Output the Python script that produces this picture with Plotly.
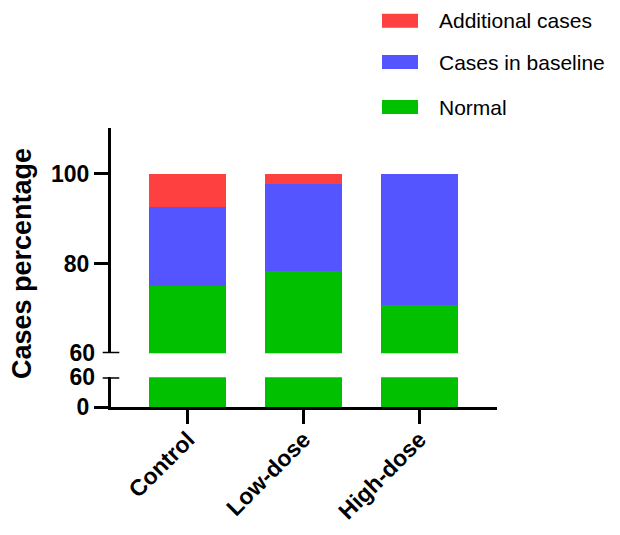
import plotly.graph_objects as go

categories = ["Control", "Low-dose", "High-dose"]
normal = [75.0, 78.3, 70.8]
baseline = [17.5, 19.5, 29.2]
additional = [7.5, 2.2, 0.0]

series_names = ["Normal", "Cases in baseline", "Additional cases"]
series_values = [normal, baseline, additional]
series_colors = ["#00C000", "#5555FF", "#FF4040"]

upper_ticks = [80, 100]
upper_range = [60, 110.2]
lower_ticks = [0]
lower_range = [0, 60]
break_value = 60

FONT = "Liberation Sans, Arial, sans-serif"

# page has an 8px body margin; work in screen pixels
OFF = 8
W, H = 620 - 2 * OFF, 535 - 2 * OFF
SX0, SX1, SY0, SY1 = 111, 497, 128, 407   # plot area on screen
L, T = SX0 - OFF, SY0 - OFF
R, B = W - (SX1 - OFF), H - (SY1 - OFF)
pw, ph = SX1 - SX0, SY1 - SY0

def py(ypix):
    return (SY1 - ypix) / ph

def px(xpix):
    return (xpix - SX0) / pw

fig = go.Figure()
for name, vals, col in zip(series_names, series_values, series_colors):
    for ax in ("y", "y2"):
        fig.add_trace(go.Bar(
            x=categories, y=vals, name=name, yaxis=ax, xaxis="x",
            marker=dict(color=col, line=dict(width=0)),
            width=0.665, showlegend=False,
        ))
# empty traces so the label-only overlay axes are drawn
for ax in ("y3", "y4"):
    fig.add_trace(go.Scatter(x=[categories[0]], y=[None], yaxis=ax,
                             mode="markers", showlegend=False,
                             hoverinfo="skip"))

TICKFONT = dict(family=FONT, size=23, color="black", weight="bold")
axis_common = dict(showgrid=False, zeroline=False, tickfont=TICKFONT)

fig.update_layout(
    width=W, height=H,
    margin=dict(l=L, r=R, t=T, b=B, autoexpand=False),
    plot_bgcolor="white", paper_bgcolor="white",
    barmode="stack", showlegend=False,
    xaxis=dict(**axis_common, showline=True, linecolor="black", linewidth=3,
               range=[-0.665, 2.67], ticks="outside",
               ticklen=14, tickwidth=3, tickcolor="black", tickangle=-45,
               anchor="y2", ticklabelstandoff=-7),
    yaxis=dict(**axis_common, showline=True, linecolor="black", linewidth=3,
               domain=[py(353.3), 1], range=upper_range,
               tickvals=upper_ticks, ticks="outside", ticklen=14, tickwidth=3,
               tickcolor="black", anchor="x", ticklabelstandoff=0),
    yaxis3=dict(**axis_common, showline=False, overlaying="y",
                domain=[py(353.3), 1], range=upper_range,
                tickvals=[break_value], ticks="", anchor="x",
                ticklabelstandoff=15),
    yaxis2=dict(**axis_common, showline=True, linecolor="black", linewidth=3,
                domain=[0, py(377.3)], range=lower_range,
                tickvals=lower_ticks, ticks="outside", ticklen=14, tickwidth=3,
                tickcolor="black", anchor="x", ticklabelstandoff=0),
    yaxis4=dict(**axis_common, showline=False, overlaying="y2",
                domain=[0, py(377.3)], range=lower_range,
                tickvals=[break_value], ticks="", anchor="x",
                ticklabelstandoff=15),
)

# axis break marks
half = 8.3 / pw
for yref in ("y", "y2"):
    fig.add_shape(type="line", xref="paper", yref=yref, x0=-half, x1=half,
                  y0=break_value, y1=break_value,
                  line=dict(color="black", width=3))

# y title
fig.add_annotation(text="Cases percentage", textangle=-90, xref="paper",
                   yref="paper", x=px(22), y=py(264), xanchor="center",
                   yanchor="middle", showarrow=False,
                   font=dict(family=FONT, size=27, color="black", weight="bold"))

# legend (top to bottom: Additional, Baseline, Normal)
legend_rows = [20.7, 62, 107]
for (name, col), yc in zip(reversed(list(zip(series_names, series_colors))), legend_rows):
    fig.add_shape(type="rect", xref="paper", yref="paper",
                  x0=px(382), x1=px(418), y0=py(yc + 7), y1=py(yc - 7),
                  fillcolor=col, line=dict(width=0))
    fig.add_annotation(text=name, xref="paper", yref="paper", x=px(437),
                       y=py(yc), xanchor="left", yanchor="middle",
                       showarrow=False,
                       font=dict(family=FONT, size=21, color="black"))

fig.write_html("out.html")
